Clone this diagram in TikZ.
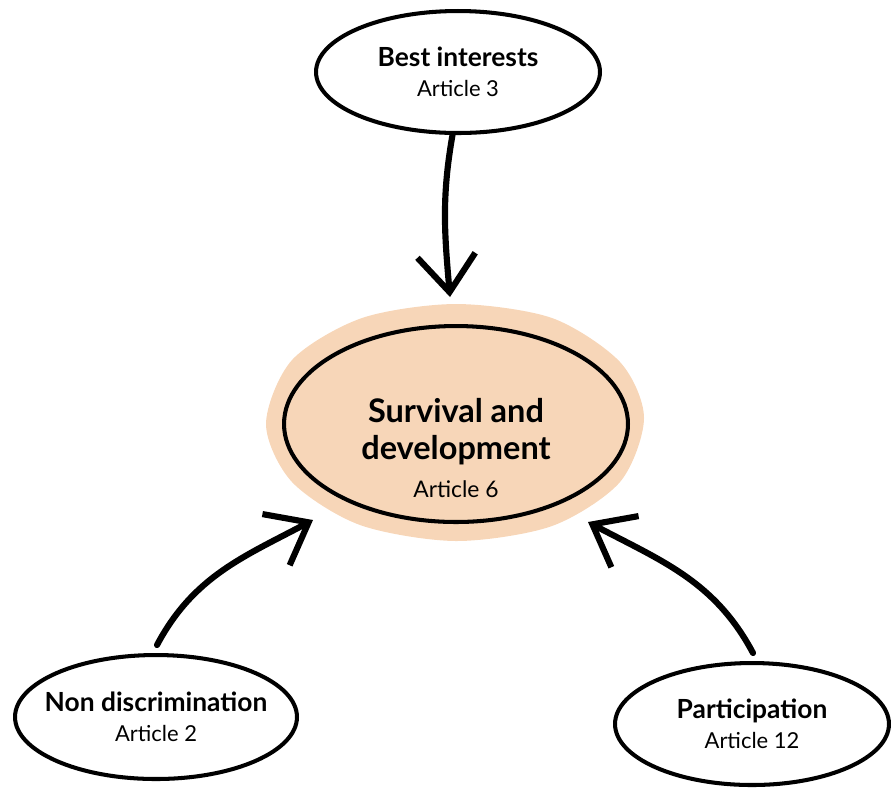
\documentclass[tikz,border=0pt]{standalone}
\usepackage{fontspec}
\setmainfont{Lato}
\usetikzlibrary{shapes.geometric,arrows.meta}
\definecolor{peach}{RGB}{247,214,184}
\begin{document}
\begin{tikzpicture}[x=0.02cm,y=-0.02cm,line width=2.3pt,
  oval/.style={draw,ellipse,fill=white,inner ysep=0pt,inner xsep=-12pt,align=center,
    font=\fontsize{15}{17}\selectfont\bfseries},
  push/.style={line width=3.5pt,line cap=round,
    -{Straight Barb[length=21pt,width=33pt,line width=3.5pt]}},
  art/.style={font=\fontsize{12.5}{15}\selectfont\mdseries}]
\useasboundingbox (0,0) rectangle (891,789);
% 背景色块
\fill[peach] plot[smooth cycle] coordinates {(644,418) (620,362) (552,318) (456,304)
  (362,318) (292,360) (266,424) (292,482) (360,525) (456,541) (552,526) (620,482)};
% 中心椭圆
\node[oval,fill=none,minimum width=6.88cm,minimum height=3.92cm] (surv) at (456,424) {};
\node[align=center,inner sep=0pt,font=\fontsize{18.5}{21}\selectfont\bfseries]
  (survtxt) at (456,448)
  {Survival and\\ development\\[1pt]
   {\fontsize{13}{15}\selectfont\mdseries Article 6}};
% 三个原则
\node[oval,minimum width=5.68cm,minimum height=2.44cm] (best) at (458,72)
  {Best interests\\ {\fontsize{12.5}{15}\selectfont\mdseries Article 3}};
\node[oval,minimum width=5.64cm,minimum height=2.48cm] (nondis) at (156,717)
  {Non discrimination\\ {\fontsize{12.5}{15}\selectfont\mdseries Article 2}};
\node[oval,minimum width=5.48cm,minimum height=2.44cm] (part) at (752,724)
  {Participation\\ {\fontsize{12.5}{15}\selectfont\mdseries Article 12}};
% 箭头
\coordinate (tipB) at (450,297);
\coordinate (tipN) at (313,520);
\coordinate (tipP) at (588,522);
\draw[push] (best.-95) to[out=-100,in=95] (tipB);
\draw[push] (nondis.north) ++(1,-8) to[out=62,in=208] (tipN);
\draw[push] (part.north) ++(1,-8) to[out=118,in=-28] (tipP);
\end{tikzpicture}
\end{document}
